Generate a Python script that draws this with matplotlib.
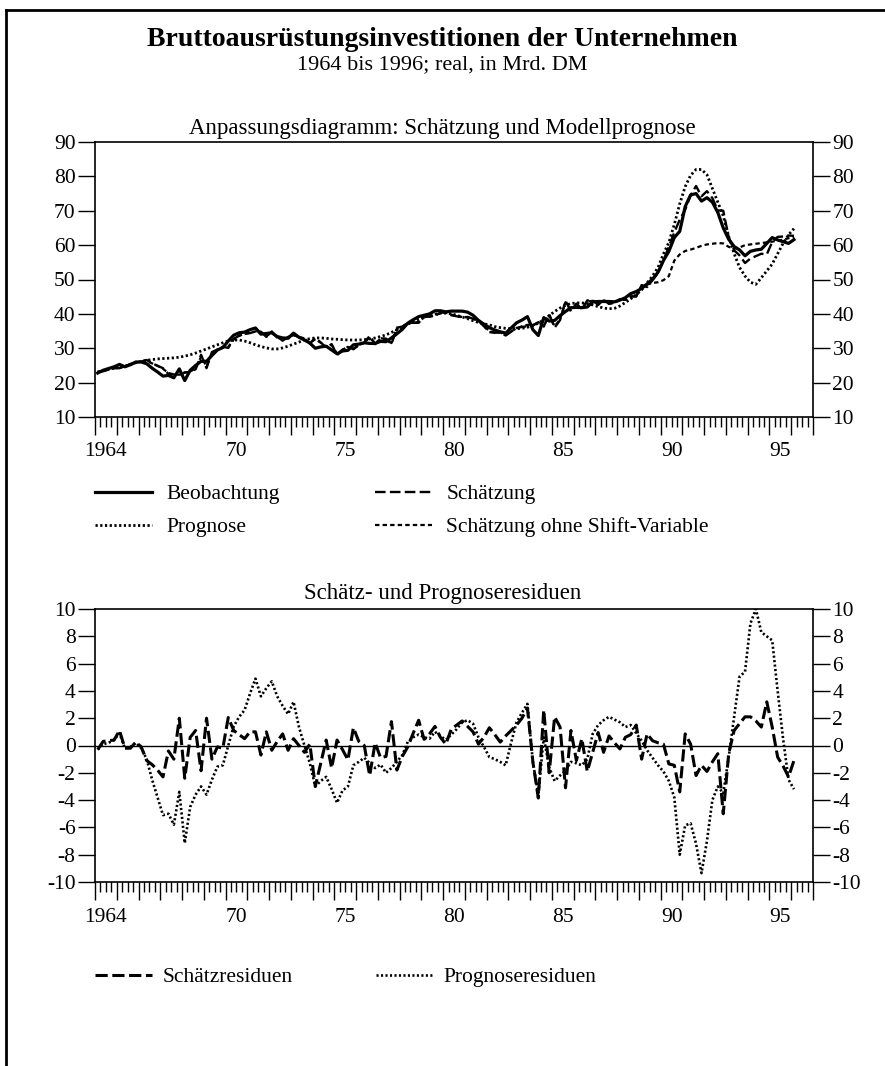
import numpy as np
import matplotlib.pyplot as plt
from matplotlib.lines import Line2D
from matplotlib.ticker import MultipleLocator

plt.rcParams['font.family'] = ['Liberation Serif', 'DejaVu Serif']
plt.rcParams['axes.unicode_minus'] = False

### DATA (quarterly, 1964 Q1 bis 1996 Q1, in Mrd. DM)

t = np.arange(129) * 0.25 + 1964.125   # Quartalsmitte

beobachtung = [
    22.8, 23.6, 24.1, 24.6,  25.3, 24.6, 25.2, 26.0,  26.0, 25.5, 24.2, 23.1,
    21.9, 22.1, 21.4, 24.0,  20.6, 23.6, 25.0, 26.2,  26.2, 27.9, 29.5, 30.2,
    32.1, 33.8, 34.5, 34.7,  35.4, 35.9, 34.1, 34.3,  34.5, 33.4, 33.0, 32.9,
    34.4, 33.2, 32.4, 31.5,  30.0, 30.4, 30.6, 29.5,  28.4, 29.2, 29.4, 31.0,
    31.2, 31.6, 31.4, 31.4,  32.0, 31.9, 33.0, 34.2,  35.5, 37.3, 38.3, 39.2,
    39.6, 40.0, 40.9, 40.9,  40.6, 40.8, 40.8, 40.8,  40.5, 39.6, 38.1, 37.0,
    36.0, 35.3, 34.8, 34.4,  35.9, 37.4, 38.2, 39.2,  35.4, 33.7, 38.9, 37.9,
    38.1, 39.5, 40.7, 41.8,  41.9, 41.8, 42.0, 43.5,  43.6, 43.6, 43.6, 43.5,
    44.0, 44.7, 45.9, 46.5,  47.4, 48.7, 50.1, 52.1,  55.5, 58.2, 62.2, 64.0,
    71.2, 74.6, 75.0, 72.8,  73.8, 72.5, 69.5, 65.0,  61.7, 59.6, 58.6, 56.9,
    58.2, 58.6, 58.8, 60.5,  62.2, 61.5, 61.0, 60.5,  61.6]

schaetzung = [
    23.1, 23.3, 23.8, 24.2,  24.2, 24.8, 25.4, 25.8,  26.1, 26.6, 25.6, 24.9,
    24.2, 22.5, 22.4, 22.0,  23.0, 23.0, 23.9, 28.1,  24.2, 28.9, 29.6, 30.4,
    30.1, 32.7, 33.7, 34.2,  34.4, 34.9, 34.8, 33.3,  34.9, 33.1, 32.2, 33.3,
    33.9, 33.2, 32.9, 31.4,  33.0, 31.7, 30.2, 31.2,  28.0, 29.5, 30.5, 29.7,
    30.9, 31.6, 33.6, 31.2,  32.9, 32.7, 31.2, 36.0,  36.3, 37.4, 37.4, 37.4,
    39.2, 39.2, 39.5, 40.3,  40.5, 39.6, 39.3, 39.0,  39.1, 38.6, 38.0, 36.4,
    34.7, 34.5, 34.6, 33.7,  34.8, 35.9, 36.2, 36.4,  36.6, 37.6, 36.3, 39.9,
    36.0, 38.2, 43.8, 40.7,  43.0, 41.3, 43.9, 44.0,  42.6, 44.1, 42.9, 43.3,
    44.3, 44.1, 45.1, 45.0,  48.4, 47.8, 49.8, 51.9,  55.4, 59.6, 63.7, 67.4,
    70.3, 74.5, 77.2, 74.2,  75.7, 73.7, 70.1, 70.0,  62.3, 58.5, 57.0, 54.8,
    56.1, 56.8, 57.5, 57.3,  60.9, 62.4, 62.5, 62.8,  62.7]

prognose = [
    23.1, 23.5, 23.9, 24.2,  24.4, 24.8, 25.3, 25.8,  26.2, 26.5, 26.7, 26.9,
    27.0, 27.1, 27.2, 27.4,  27.7, 28.1, 28.6, 29.2,  29.8, 30.4, 31.0, 31.6,
    32.1, 32.4, 32.4, 32.1,  31.6, 31.0, 30.5, 30.1,  29.8, 29.8, 30.1, 30.6,
    31.2, 31.8, 32.4, 32.8,  33.0, 33.0, 32.9, 32.7,  32.6, 32.5, 32.4, 32.4,
    32.4, 32.5, 32.7, 33.0,  33.4, 33.9, 34.6, 35.4,  36.2, 37.0, 37.7, 38.4,
    39.0, 39.5, 39.9, 40.2,  40.2, 40.0, 39.6, 39.1,  38.6, 38.0, 37.5, 37.1,
    36.8, 36.3, 36.0, 35.8,  35.7, 35.7, 35.8, 36.1,  36.6, 37.3, 38.3, 39.5,
    40.7, 41.7, 42.5, 43.0,  43.2, 43.2, 43.0, 42.6,  42.1, 41.7, 41.5, 41.6,
    42.3, 43.3, 44.4, 45.6,  47.0, 49.0, 51.0, 53.5,  57.4, 60.8, 66.0, 72.0,
    77.0, 80.3, 82.0, 82.0,  80.5, 76.5, 72.5, 68.5,  62.5, 57.5, 53.5, 51.0,
    49.2, 48.6, 50.5, 52.5,  54.5, 57.5, 60.5, 63.0,  64.8]

ohne_shift = [
    23.1, 23.4, 23.8, 24.2,  24.4, 24.8, 25.3, 25.8,  26.1, 26.3, 25.6, 24.9,
    24.0, 22.8, 22.4, 22.3,  22.9, 23.2, 24.2, 27.5,  24.8, 28.5, 29.5, 30.4,
    30.4, 32.6, 33.6, 34.2,  34.5, 34.9, 34.7, 33.5,  34.6, 33.2, 32.3, 33.2,
    33.8, 33.2, 32.8, 31.6,  32.6, 31.6, 30.4, 31.0,  28.4, 29.6, 30.4, 29.9,
    30.9, 31.6, 33.2, 31.4,  32.8, 32.8, 31.5, 35.6,  36.2, 37.3, 37.5, 37.6,
    39.0, 39.2, 39.6, 40.2,  40.4, 39.8, 39.4, 39.1,  39.0, 38.6, 38.0, 36.6,
    34.9, 34.6, 34.6, 33.9,  34.9, 35.8, 36.4, 36.8,  36.8, 37.4, 36.6, 39.6,
    36.4, 38.4, 43.4, 41.0,  42.8, 41.5, 43.6, 43.8,  42.8, 43.9, 43.0, 43.2,
    44.1, 44.2, 45.0, 45.3,  47.8, 48.5, 49.0, 49.2,  49.8, 51.0, 55.5, 57.3,
    58.3, 58.7, 59.2, 59.8,  60.2, 60.4, 60.6, 60.5,  59.5, 59.0, 59.3, 60.0,
    60.2, 60.4, 60.6, 60.8,  61.0, 61.3, 61.6, 62.0,  62.4]

schaetz_res = [
    -0.3, 0.3, 0.35, 0.4,  1.1, -0.2, -0.2, 0.25,  -0.1, -1.1, -1.4, -1.8,
    -2.3, -0.4, -1.0, 2.0,  -2.4, 0.6, 1.1, -1.85,  2.0, -1.0, -0.1, -0.2,
    2.05, 1.1, 0.8, 0.5,  1.0, 1.0, -0.7, 1.0,  -0.35, 0.3, 0.85, -0.35,
    0.5, 0.0, -0.5, 0.1,  -3.0, -1.3, 0.4, -1.65,  0.4, -0.3, -1.05, 1.3,
    0.3, 0.0, -2.2, 0.2,  -0.9, -0.8, 1.75, -1.8,  -0.8, -0.1, 0.9, 1.85,
    0.45, 0.85, 1.4, 0.6,  0.1, 1.2, 1.5, 1.8,  1.4, 1.0, 0.1, 0.6,
    1.3, 0.8, 0.25, 0.7,  1.1, 1.5, 2.0, 2.75,  -1.2, -3.85, 2.6, -2.0,
    2.1, 1.35, -3.1, 1.1,  -1.1, 0.5, -1.9, -0.5,  0.95, -0.5, 0.7, 0.2,
    -0.25, 0.6, 0.8, 1.5,  -1.0, 0.85, 0.35, 0.2,  0.1, -1.35, -1.45, -3.4,
    0.85, 0.1, -2.2, -1.45,  -1.9, -1.2, -0.6, -5.0,  -0.6, 1.1, 1.6, 2.1,
    2.1, 1.8, 1.35, 3.2,  1.35, -0.85, -1.5, -2.3,  -1.1]

prog_res = [
    -0.3, 0.1, 0.2, 0.4,  0.9, -0.2, -0.1, 0.2,  -0.2, -1.0, -2.5, -3.8,
    -5.1, -5.0, -5.8, -3.4,  -7.15, -4.5, -3.6, -3.0,  -3.6, -2.5, -1.55, -1.45,
    0.0, 1.4, 2.1, 2.6,  3.8, 4.9, 3.6, 4.2,  4.7, 3.6, 2.9, 2.3,
    3.2, 1.35, 0.0, -1.3,  -3.0, -2.6, -2.3, -3.2,  -4.2, -3.3, -3.0, -1.45,
    -1.2, -0.9, -1.3, -1.65,  -1.4, -2.0, -1.65, -1.2,  -0.7, 0.27, 0.6, 0.8,
    0.6, 0.5, 1.0, 0.7,  0.4, 0.8, 1.2, 1.7,  1.85, 1.6, 0.6, -0.1,
    -0.85, -1.0, -1.2, -1.45,  0.2, 1.7, 2.4, 3.05,  -1.2, -3.6, 0.6, -1.6,
    -2.6, -2.2, -1.85, -1.2,  -1.3, -1.45, -1.0, 0.85,  1.5, 1.85, 2.1, 1.9,
    1.7, 1.35, 1.5, 0.9,  0.35, -0.35, -0.9, -1.45,  -1.9, -2.6, -3.8, -8.0,
    -5.85, -5.7, -7.2, -9.35,  -7.0, -4.0, -3.0, -3.5,  -0.85, 2.1, 5.05, 5.4,
    8.95, 10.0, 8.3, 8.0,  7.7, 4.0, 0.5, -2.5,  -3.2]

label_years = [1964, 1970, 1975, 1980, 1985, 1990, 1995]
year_labels = ['1964', '70', '75', '80', '85', '90', '95']

### PLOTTING

fig = plt.figure(figsize=(8.85, 10.66), dpi=100)
W, H = 885, 1066
fs_tick = 15.5
fs_txt = 16.5
fs_leg = 15.5

ax1 = fig.add_axes([95 / W, 1 - 417 / H, 718 / W, 275 / H])
ax2 = fig.add_axes([95 / W, 1 - 882 / H, 718 / W, 273 / H])


def style(ax, ylo, yhi, ystep, h_px):
    ax.set_xlim(1964, 1997)
    ax.set_ylim(ylo, yhi)
    ax.set_yticks(np.arange(ylo, yhi + 1, ystep))
    ax.xaxis.set_major_locator(MultipleLocator(1))
    ax.xaxis.set_minor_locator(MultipleLocator(0.25))
    ax.tick_params(axis='x', which='major', direction='out', length=13, width=1.0, labelbottom=False)
    ax.tick_params(axis='x', which='minor', direction='out', length=7, width=1.0)
    ax.tick_params(axis='y', direction='out', length=12, width=1.0, left=True, right=True,
                   labelleft=True, labelright=True, labelsize=fs_tick, pad=2)
    for s in ax.spines.values():
        s.set_linewidth(1.2)
    for yr, lab in zip(label_years, year_labels):
        ax.text(yr + 0.5, -35 / h_px, lab, transform=ax.get_xaxis_transform(),
                ha='center', va='center', fontsize=fs_tick)


# Anpassungsdiagramm
l_beo, = ax1.plot(t, beobachtung, color='black', lw=2.3, solid_joinstyle='round')
l_sch, = ax1.plot(t, schaetzung, color='black', lw=1.7, dashes=(4.5, 1.8))
l_pro, = ax1.plot(t, prognose, color='black', lw=2.0, dashes=(0.8, 0.9))
l_ohn, = ax1.plot(t, ohne_shift, color='black', lw=1.6, dashes=(2.0, 1.4))
style(ax1, 10, 90, 10, 275)
fig.text(0.5, 1 - 128 / H, 'Anpassungsdiagramm: Schätzung und Modellprognose',
         ha='center', va='center', fontsize=fs_txt)

fig.legend([l_beo, l_pro, l_sch, l_ohn],
           ['Beobachtung', 'Prognose', 'Schätzung', 'Schätzung ohne Shift-Variable'],
           loc='upper left', bbox_to_anchor=(95 / W, 1 - 484 / H), ncol=2, frameon=False,
           fontsize=fs_leg, handlelength=2.65, handletextpad=0.65, columnspacing=4.45,
           labelspacing=0.62, borderpad=0, borderaxespad=0)

# Residuen
ax2.axhline(0, color='black', lw=1.0)
l_sr, = ax2.plot(t, schaetz_res, color='black', lw=2.2, dashes=(4, 1.5))
l_pr, = ax2.plot(t, prog_res, color='black', lw=1.9, dashes=(0.8, 0.9))
style(ax2, -10, 10, 2, 273)
fig.text(0.5, 1 - 594 / H, 'Schätz- und Prognoseresiduen',
         ha='center', va='center', fontsize=fs_txt)

fig.legend([l_sr, l_pr], ['Schätzresiduen', 'Prognoseresiduen'],
           loc='upper left', bbox_to_anchor=(95 / W, 1 - 967 / H), ncol=2, frameon=False,
           fontsize=fs_leg, handlelength=2.65, handletextpad=0.5, columnspacing=3.85,
           borderpad=0, borderaxespad=0)

# Titel
fig.text(0.5, 1 - 39 / H, 'Bruttoausrüstungsinvestitionen der Unternehmen',
         ha='center', va='center', fontsize=20, fontweight='bold')
fig.text(0.5, 1 - 65 / H, '1964 bis 1996; real, in Mrd. DM',
         ha='center', va='center', fontsize=16)

# Rahmen
fig.add_artist(Line2D([6 / W, 6 / W], [0, 1 - 10 / H], transform=fig.transFigure, color='black', lw=2.0))
fig.add_artist(Line2D([6 / W, 1], [1 - 10 / H, 1 - 10 / H], transform=fig.transFigure, color='black', lw=2.0))

fig.savefig('out.png', dpi=100, facecolor='white')
